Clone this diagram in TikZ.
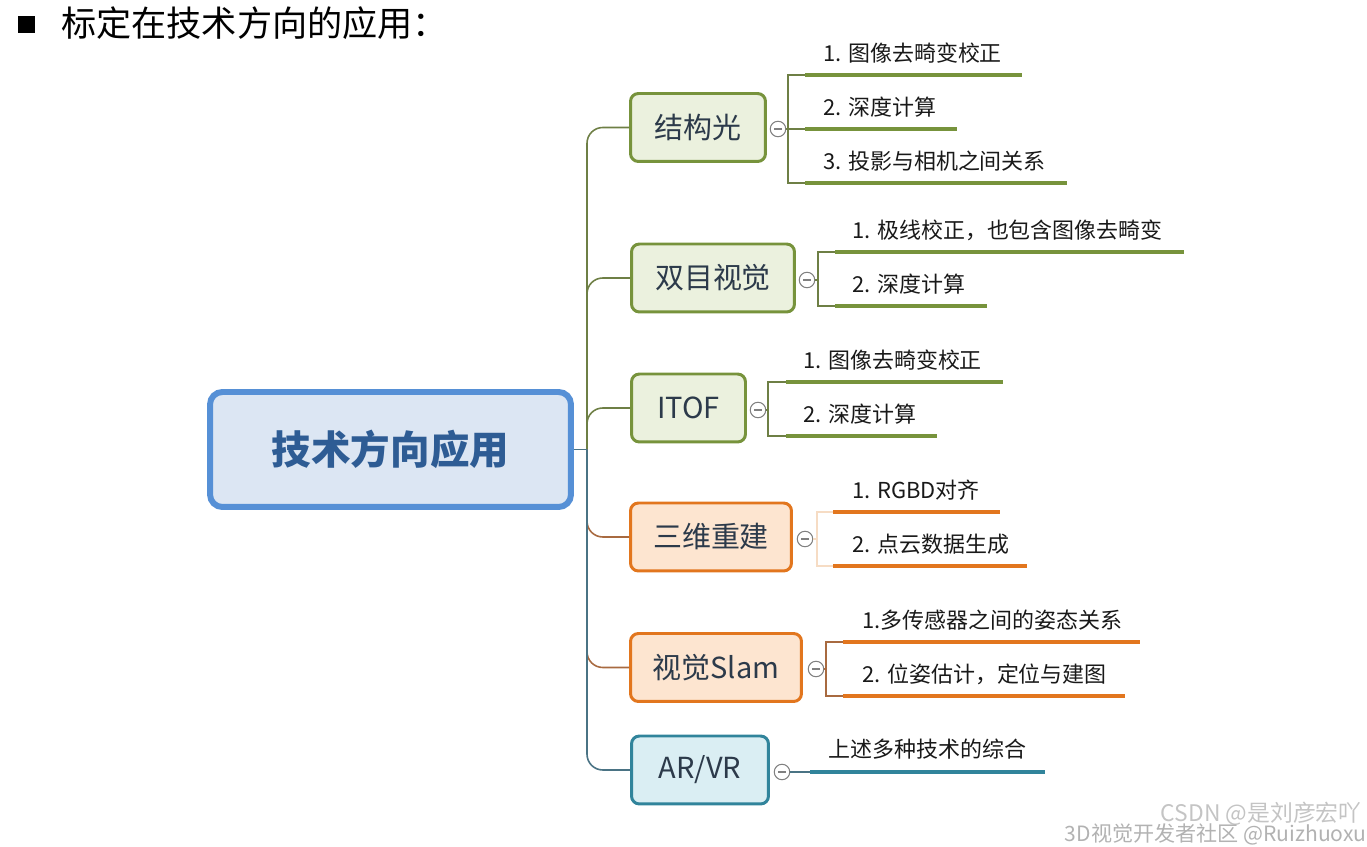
\documentclass[tikz,border=0pt]{standalone}
\usepackage{fontspec}
\setmainfont{Noto Sans CJK SC}
\usetikzlibrary{positioning}
\definecolor{rootline}{HTML}{5690D6}
\definecolor{rootfill}{HTML}{DCE6F3}
\definecolor{roottext}{HTML}{2E5C94}
\definecolor{oliveline}{HTML}{77933C}
\definecolor{olivefill}{HTML}{EBF1DE}
\definecolor{olivelink}{HTML}{6E7F45}
\definecolor{orangeline}{HTML}{E2761E}
\definecolor{orangefill}{HTML}{FDE5D0}
\definecolor{orangelink}{HTML}{A86A40}
\definecolor{orangepale}{HTML}{F6DCC4}
\definecolor{tealline}{HTML}{31849B}
\definecolor{tealfill}{HTML}{DAEEF3}
\definecolor{teallink}{HTML}{4A7384}
\definecolor{topictext}{HTML}{2C3A4A}
\definecolor{marktext}{HTML}{C4C4C4}
\tikzset{
    mind map/.style    = {x=0.02cm, y=-0.02cm},
    rootbox/.style     = {draw=rootline, line width=3.4pt, fill=rootfill,
                          rounded corners=7pt, minimum width=7.22cm,
                          minimum height=2.30cm, text=roottext,
                          font=\fontsize{22.5}{26}\selectfont\bfseries},
    topic/.style       = {draw, line width=1.7pt, rounded corners=4.5pt,
                          minimum height=1.36cm, text=topictext,
                          font=\fontsize{16.5}{20}\selectfont},
    olive topic/.style = {topic, draw=oliveline, fill=olivefill},
    orange topic/.style= {topic, draw=orangeline, fill=orangefill},
    teal topic/.style  = {topic, draw=tealline, fill=tealfill},
    fold/.style        = {circle, draw=gray, fill=white, line width=0.6pt,
                          minimum size=0.31cm, inner sep=0pt,
                          path picture={\draw[gray, line width=0.6pt]
                            ([xshift=-2pt]path picture bounding box.center) --
                            ([xshift=2pt]path picture bounding box.center);}},
    link/.style        = {line width=0.9pt, rounded corners=9pt},
    bracket/.style     = {line width=0.8pt},
    underline/.style   = {line width=2.3pt},
    leaf/.style        = {anchor=base west, inner sep=0pt, text=black!90,
                          font=\fontsize{12.5}{15}\selectfont},
    watermark/.style   = {anchor=base east, inner sep=0pt, text=marktext}
}
\begin{document}
\begin{tikzpicture}[mind map]
\useasboundingbox (0,0) rectangle (1367,847);

% ================= Title =================
\node[fill=black, minimum size=0.34cm, inner sep=0pt] (bullet) at (26.5,25) {};
\node[anchor=base west, inner sep=0pt, font=\fontsize{20}{24}\selectfont]
    (title) at (61,37) {标定在技术方向的应用：};

% ================= Root =================
\node[rootbox] (root) at (390.5,449.5) {技术方向应用};
\coordinate (hub) at (587,449.5);

% ================= Topics =================
\node[olive topic, minimum width=2.70cm]  (sl)     at (698,127.5) {结构光};
\node[olive topic, minimum width=3.26cm]  (stereo) at (713,278)   {双目视觉};
\node[olive topic, minimum width=2.28cm]  (itof)   at (688.5,408) {ITOF};
\node[orange topic, minimum width=3.22cm] (recon)  at (711,537)   {三维重建};
\node[orange topic, minimum width=3.42cm] (slam)   at (716,667.5) {视觉Slam};
\node[teal topic, minimum width=2.74cm]   (arvr)   at (700,770)   {AR/VR};

% trunk links
\draw[link, olivelink] (hub) |- (sl.west);
\draw[link, olivelink] (hub) |- (stereo.west);
\draw[link, olivelink] (hub) |- (itof.west);
\draw[link, orangelink] (hub) |- (recon.west);
\draw[link, orangelink] (hub) |- (slam.west);
\draw[link, teallink] (hub) |- (arvr.west);
\draw[link, teallink] (root.east) -- (hub);

% ================= 结构光 =================
\node[fold] (sl-fold) at (778,129) {};
\coordinate (sl-k)  at (788,129);
\coordinate (sl-1a) at (805,75);  \coordinate (sl-1b) at (1022,75);
\coordinate (sl-2a) at (805,129); \coordinate (sl-2b) at (957,129);
\coordinate (sl-3a) at (805,183); \coordinate (sl-3b) at (1067,183);
\draw[bracket, olivelink] (sl-fold) -- (sl-k);
\draw[bracket, olivelink] (sl-1a) -| (sl-k) |- (sl-3a);
\draw[bracket, olivelink] (sl-k) -- (sl-2a);
\draw[underline, oliveline] (sl-1a) -- (sl-1b);
\draw[underline, oliveline] (sl-2a) -- (sl-2b);
\draw[underline, oliveline] (sl-3a) -- (sl-3b);
\node[leaf] (sl-1) at (823,62)  {1. 图像去畸变校正};
\node[leaf] (sl-2) at (823,116) {2. 深度计算};
\node[leaf] (sl-3) at (823,170) {3. 投影与相机之间关系};

% ================= 双目视觉 =================
\node[fold] (stereo-fold) at (807,280) {};
\coordinate (stereo-k)  at (818,280);
\coordinate (stereo-1a) at (835,252); \coordinate (stereo-1b) at (1184,252);
\coordinate (stereo-2a) at (835,306); \coordinate (stereo-2b) at (987,306);
\draw[bracket, olivelink] (stereo-fold) -- (stereo-k);
\draw[bracket, olivelink] (stereo-1a) -| (stereo-k) |- (stereo-2a);
\draw[underline, oliveline] (stereo-1a) -- (stereo-1b);
\draw[underline, oliveline] (stereo-2a) -- (stereo-2b);
\node[leaf] (stereo-1) at (852,239) {1. 极线校正，也包含图像去畸变};
\node[leaf] (stereo-2) at (852,293) {2. 深度计算};

% ================= ITOF =================
\node[fold] (itof-fold) at (758,410) {};
\coordinate (itof-k)  at (768,410);
\coordinate (itof-1a) at (786,382); \coordinate (itof-1b) at (1003,382);
\coordinate (itof-2a) at (786,436); \coordinate (itof-2b) at (937,436);
\draw[bracket, olivelink] (itof-fold) -- (itof-k);
\draw[bracket, olivelink] (itof-1a) -| (itof-k) |- (itof-2a);
\draw[underline, oliveline] (itof-1a) -- (itof-1b);
\draw[underline, oliveline] (itof-2a) -- (itof-2b);
\node[leaf] (itof-1) at (803,369) {1. 图像去畸变校正};
\node[leaf] (itof-2) at (803,423) {2. 深度计算};

% ================= 三维重建 =================
\node[fold] (recon-fold) at (805,539) {};
\coordinate (recon-k)  at (817,539);
\coordinate (recon-1a) at (833,512); \coordinate (recon-1b) at (1000,512);
\coordinate (recon-2a) at (833,566); \coordinate (recon-2b) at (1027,566);
\draw[bracket, orangepale] (recon-fold) -- (recon-k);
\draw[bracket, orangepale] (recon-1a) -| (recon-k) |- (recon-2a);
\draw[underline, orangeline] (recon-1a) -- (recon-1b);
\draw[underline, orangeline] (recon-2a) -- (recon-2b);
\node[leaf] (recon-1) at (852,499) {1. RGBD对齐};
\node[leaf] (recon-2) at (852,553) {2. 点云数据生成};

% ================= 视觉Slam =================
\node[fold] (slam-fold) at (816,669) {};
\coordinate (slam-k)  at (826,669);
\coordinate (slam-1a) at (843,642); \coordinate (slam-1b) at (1140,642);
\coordinate (slam-2a) at (843,696); \coordinate (slam-2b) at (1125,696);
\draw[bracket, orangelink] (slam-fold) -- (slam-k);
\draw[bracket, orangelink] (slam-1a) -| (slam-k) |- (slam-2a);
\draw[underline, orangeline] (slam-1a) -- (slam-1b);
\draw[underline, orangeline] (slam-2a) -- (slam-2b);
\node[leaf] (slam-1) at (862,629) {1.多传感器之间的姿态关系};
\node[leaf] (slam-2) at (862,683) {2. 位姿估计，定位与建图};

% ================= AR/VR =================
\node[fold] (arvr-fold) at (782,772) {};
\coordinate (arvr-1a) at (810,772); \coordinate (arvr-1b) at (1045,772);
\draw[bracket, teallink] (arvr-fold) -- (arvr-1a);
\draw[underline, tealline] (arvr-1a) -- (arvr-1b);
\node[leaf] (arvr-1) at (828,758) {上述多种技术的综合};

% ================= Watermark =================
\node[watermark, font=\fontsize{13}{15}\selectfont] (csdn) at (1362,822) {CSDN @是刘彦宏吖};
\node[watermark, text=black!30, font=\fontsize{12}{14}\selectfont] (club) at (1367,842) {3D视觉开发者社区 @Ruizhuoxu};

\end{tikzpicture}
\end{document}
